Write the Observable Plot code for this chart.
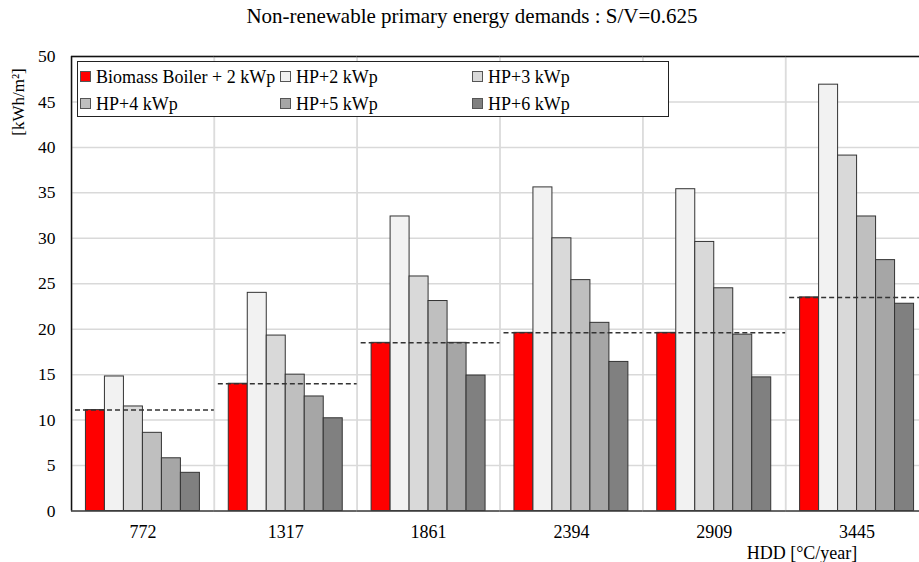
<!DOCTYPE html>
<html>
<head>
<meta charset="utf-8">
<script src="https://cdn.jsdelivr.net/npm/d3@7"></script>
<script src="https://cdn.jsdelivr.net/npm/@observablehq/plot@0.6"></script>
<style>
  body { margin: 0; background: #fff; }
  #wrap { position: relative; width: 919px; height: 562px; overflow: hidden; font-family: "Liberation Serif", "Times New Roman", serif; color: #000; }
  #wrap svg { position: absolute; left: 0; top: 0; }
  .t { position: absolute; white-space: nowrap; font-size: 18px; line-height: 1; }
  #title { left: 472px; top: 6px; transform: translateX(-50%); font-size: 21px; }
  #ylab { left: 18px; top: 102px; transform: translate(-50%, -50%) rotate(-90deg); font-size: 17px; }
  #xlab { left: 802px; top: 544px; transform: translateX(-50%); }
  #legend { position: absolute; left: 77px; top: 61px; width: 590px; height: 54px; border: 1.5px solid #222; background: #fff; }
  .li { position: absolute; font-size: 18px; line-height: 1; white-space: nowrap; }
  .sw { display: inline-block; width: 9px; height: 9px; border: 1px solid #555; margin-right: 5px; vertical-align: 1px; }
</style>
</head>
<body>
<div id="wrap"></div>
<script>
const hdd = ["772", "1317", "1861", "2394", "2909", "3445"];
const series = ["Biomass Boiler + 2 kWp", "HP+2 kWp", "HP+3 kWp", "HP+4 kWp", "HP+5 kWp", "HP+6 kWp"];
const biomass = [11.1, 14.0, 18.5, 19.6, 19.6, 23.5];
const hp2 = [14.8, 24.0, 32.4, 35.6, 35.4, 46.9];
const hp3 = [11.5, 19.3, 25.8, 30.0, 29.6, 39.1];
const hp4 = [8.6, 15.0, 23.1, 25.4, 24.5, 32.4];
const hp5 = [5.8, 12.6, 18.5, 20.7, 19.4, 27.6];
const hp6 = [4.2, 10.2, 14.9, 16.4, 14.7, 22.8];
const colors = ["#ff0000", "#f2f2f2", "#d9d9d9", "#bfbfbf", "#a6a6a6", "#808080"];
const yTicks = [0, 5, 10, 15, 20, 25, 30, 35, 40, 45, 50];

const seriesValues = [biomass, hp2, hp3, hp4, hp5, hp6];
const data = [];
hdd.forEach((h, i) => series.forEach((s, j) => data.push({hdd: h, series: s, value: seriesValues[j][i]})));
const ref = hdd.map((h, i) => ({hdd: h, value: biomass[i]}));

const plot = Plot.plot({
  width: 919,
  height: 562,
  marginLeft: 71,
  marginRight: -9,
  marginTop: 56,
  marginBottom: 51.5,
  style: {fontFamily: '"Liberation Serif", "Times New Roman", serif', fontSize: "17px", background: "transparent", color: "#000", overflow: "hidden"},
  fx: {domain: hdd, padding: 0, round: false, label: null},
  x: {domain: series, paddingInner: 0, paddingOuter: 0.76, round: false, axis: null},
  y: {domain: [0, 50], label: null},
  color: {domain: series, range: colors},
  marks: [
    Plot.frame({stroke: "#dcdcdc", strokeWidth: 1.5}),
    Plot.gridY(yTicks, {stroke: "#d9d9d9", strokeOpacity: 1, strokeWidth: 1.5}),
    Plot.axisY(yTicks, {tickSize: 0, tickPadding: 16, label: null, fontSize: 17.5}),
    Plot.axisFx({anchor: "bottom", tickSize: 0, tickPadding: 14, label: null, fontSize: 18}),
    Plot.barY(data, {fx: "hdd", x: "series", y: "value", fill: "series", stroke: "#333", strokeWidth: 1}),
    Plot.ruleY(ref, {fx: "hdd", y: "value", stroke: "#333", strokeWidth: 1.5, strokeDasharray: "5,3", insetLeft: 4, insetRight: 0}),
    Plot.ruleY([50], {stroke: "#111", strokeWidth: 1.5}),
    Plot.ruleY([0], {stroke: "#404040", strokeWidth: 1.5}),
    Plot.ruleX([series[0]], {x: d => d, fx: () => hdd[0], y1: 0, y2: 50, dx: -23.9, stroke: "#111", strokeWidth: 1.5})
  ]
});

const wrap = document.getElementById("wrap");
wrap.appendChild(plot);

function addText(id, txt) {
  const d = document.createElement("div");
  d.className = "t"; d.id = id; d.textContent = txt;
  wrap.appendChild(d);
}
addText("title", "Non-renewable primary energy demands : S/V=0.625");
addText("ylab", "[kWh/m²]");
addText("xlab", "HDD [°C/year]");

const legend = document.createElement("div");
legend.id = "legend";
wrap.appendChild(legend);
const colX = [2, 202, 394];
const rowY = [6, 33];
series.forEach((s, i) => {
  const it = document.createElement("div");
  it.className = "li";
  it.style.left = colX[i % 3] + "px";
  it.style.top = rowY[Math.floor(i / 3)] + "px";
  const sw = document.createElement("span");
  sw.className = "sw";
  sw.style.background = colors[i];
  it.appendChild(sw);
  it.appendChild(document.createTextNode(s));
  legend.appendChild(it);
});
</script>
</body>
</html>
